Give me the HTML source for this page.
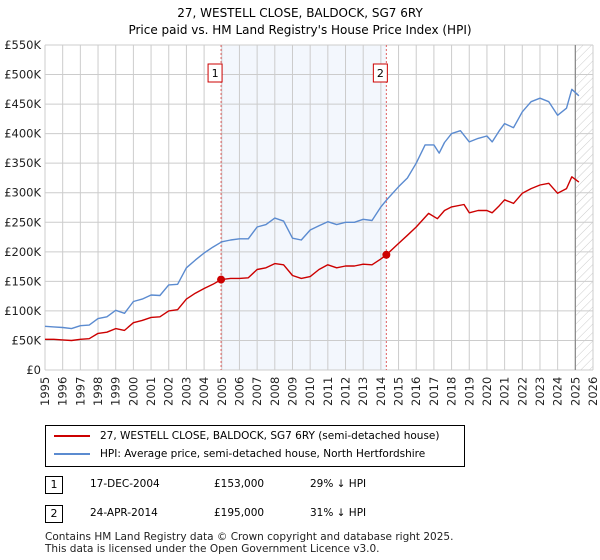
<!DOCTYPE html>
<html><head><meta charset="utf-8"><style>
body{margin:0;background:#fff;font-family:"DejaVu Sans","Liberation Sans",sans-serif;}
#wrap{position:relative;width:600px;height:560px;overflow:hidden;}
.t{position:absolute;font-size:11px;color:#000;white-space:nowrap;}
</style></head><body>
<div id="wrap">
<svg id="chart" width="600" height="420" style="position:absolute;left:0;top:0"></svg>
<div style="position:absolute;left:45px;top:425px;width:420px;height:42px;border:1px solid #000;box-sizing:border-box;">
 <div style="position:absolute;left:8px;top:4px;font-size:10.5px;white-space:nowrap"><span style="display:inline-block;width:36px;height:2px;background:#cc0000;vertical-align:middle;margin-right:10px"></span>27, WESTELL CLOSE, BALDOCK, SG7 6RY (semi-detached house)</div>
 <div style="position:absolute;left:8px;top:22px;font-size:10.5px;white-space:nowrap"><span style="display:inline-block;width:36px;height:2px;background:#5b8bd0;vertical-align:middle;margin-right:10px"></span>HPI: Average price, semi-detached house, North Hertfordshire</div>
</div>
<div>
 <div class="t" style="left:45px;top:476px;width:16px;height:16px;border:1px solid #000;text-align:center;line-height:16px;font-size:11px">1</div>
 <div class="t" style="left:90px;top:478px;font-size:10.5px">17-DEC-2004</div>
 <div class="t" style="left:214px;top:478px;font-size:10.5px">£153,000</div>
 <div class="t" style="left:310px;top:478px;font-size:10.5px">29% ↓ HPI</div>
</div>
<div>
 <div class="t" style="left:45px;top:505px;width:16px;height:16px;border:1px solid #000;text-align:center;line-height:16px;font-size:11px">2</div>
 <div class="t" style="left:90px;top:507px;font-size:10.5px">24-APR-2014</div>
 <div class="t" style="left:214px;top:507px;font-size:10.5px">£195,000</div>
 <div class="t" style="left:310px;top:507px;font-size:10.5px">31% ↓ HPI</div>
</div>
<div class="t" style="left:45px;top:531px;font-size:10.5px;line-height:12px;color:#222">Contains HM Land Registry data © Crown copyright and database right 2025.<br>This data is licensed under the Open Government Licence v3.0.</div>
</div>
<script>
const hpiYears=[1995,1995.5,1996,1996.5,1997,1997.5,1998,1998.5,1999,1999.5,2000,2000.5,2001,2001.5,2002,2002.5,2003,2003.5,2004,2004.5,2005,2005.5,2006,2006.5,2007,2007.5,2008,2008.5,2009,2009.5,2010,2010.5,2011,2011.5,2012,2012.5,2013,2013.5,2014,2014.3,2015,2015.5,2016,2016.5,2017,2017.3,2017.6,2018,2018.5,2019,2019.5,2020,2020.3,2020.7,2021,2021.5,2022,2022.5,2023,2023.5,2024,2024.5,2024.8,2025.2];
const hpiValues=[74,73,72,70,75,76,87,90,101,96,116,120,127,126,144,145,173,186,198,208,217,220,222,222,242,246,257,252,223,220,237,244,251,246,250,250,255,253,276,287,310,325,350,381,381,367,385,400,405,386,392,396,386,405,417,410,437,454,460,454,431,443,475,464];
const redYears=[1995,1995.5,1996,1996.5,1997,1997.5,1998,1998.5,1999,1999.5,2000,2000.5,2001,2001.5,2002,2002.5,2003,2003.5,2004,2004.5,2004.96,2005.5,2006,2006.5,2007,2007.5,2008,2008.5,2009,2009.5,2010,2010.5,2011,2011.5,2012,2012.5,2013,2013.5,2014,2014.31,2015,2015.5,2016,2016.7,2017.2,2017.6,2018,2018.7,2019,2019.5,2020,2020.3,2020.7,2021,2021.5,2022,2022.5,2023,2023.5,2024,2024.5,2024.8,2025.2];
const redValues=[52,52,51,50,52,53,62,64,70,67,80,84,89,90,100,102,120,130,138,145,153,155,155,156,170,173,180,178,160,155,158,170,178,173,176,176,179,178,188,195,214,228,242,265,256,270,276,280,266,270,270,266,278,288,282,299,307,313,316,299,307,327,318];
const sales=[{n:"1",x:2004.96,v:153},{n:"2",x:2014.31,v:195}];
const yTicks=[0,50,100,150,200,250,300,350,400,450,500,550];
const yTickLabels=["£0","£50K","£100K","£150K","£200K","£250K","£300K","£350K","£400K","£450K","£500K","£550K"];
const xTicks=[1995,1996,1997,1998,1999,2000,2001,2002,2003,2004,2005,2006,2007,2008,2009,2010,2011,2012,2013,2014,2015,2016,2017,2018,2019,2020,2021,2022,2023,2024,2025,2026];
const dataEnd=2025.0;

const NS="http://www.w3.org/2000/svg";
const FF='DejaVu Sans, Liberation Sans, sans-serif';
const svg=document.getElementById('chart');
const L=45,R=593,T=45,B=370;
const X=v=>L+(v-1995)/(2026-1995)*(R-L);
const Y=v=>B-v/550*(B-T);
function el(tag,attrs,parent){const e=document.createElementNS(NS,tag);for(const k in attrs)e.setAttribute(k,attrs[k]);(parent||svg).appendChild(e);return e;}

const defs=el('defs',{});
const pat=el('pattern',{id:'hatch',width:6,height:6,patternUnits:'userSpaceOnUse',patternTransform:'rotate(45)'},defs);
el('line',{x1:0,y1:0,x2:0,y2:6,stroke:'#ccc','stroke-width':1},pat);

let t=el('text',{x:300,y:17,'text-anchor':'middle','font-size':12,'font-family':FF});
t.textContent="27, WESTELL CLOSE, BALDOCK, SG7 6RY";


t=el('text',{x:300,y:34,'text-anchor':'middle','font-size':12,'font-family':FF});
t.textContent="Price paid vs. HM Land Registry's House Price Index (HPI)";



let r=el('rect',{x:X(sales[0].x),y:T,width:X(sales[1].x)-X(sales[0].x),height:B-T,fill:'#eef3fc',opacity:0.7});


r=el('rect',{x:X(dataEnd),y:T,width:R-X(dataEnd),height:B-T,fill:'url(#hatch)'});



xTicks.forEach(v=>{const g=el('line',{x1:X(v),x2:X(v),y1:T,y2:B,stroke:'#ccc','stroke-width':1});


const tx=el('text',{transform:`translate(${X(v)+4},${B+36}) rotate(-90)`,'font-size':11.5,'font-family':FF,fill:'#222'});
tx.textContent=v;

});
yTicks.forEach((v,i)=>{const g=el('line',{x1:L,x2:R,y1:Y(v),y2:Y(v),stroke:'#ccc','stroke-width':1});


const tx=el('text',{x:L-4,y:Y(v)+4,'text-anchor':'end','font-size':11.5,'font-family':FF,fill:'#222'});
tx.textContent=yTickLabels[i];

});
let ln=el('line',{x1:X(dataEnd),x2:X(dataEnd),y1:T,y2:B,stroke:'#888','stroke-width':1.2});



sales.forEach(s=>{const l=el('line',{x1:X(s.x),x2:X(s.x),y1:T,y2:B,stroke:'#e06060','stroke-width':1,'stroke-dasharray':'2,2'});

});

function path(xs,vs,color,name){const d=xs.map((x,i)=>(i?'L':'M')+X(x).toFixed(1)+','+Y(vs[i]).toFixed(1)).join('');
const p=el('path',{d:d,fill:'none',stroke:color,'stroke-width':1.4,'stroke-linejoin':'round'});

}
path(hpiYears,hpiValues,'#5b8bd0','hpi-line');
path(redYears,redValues,'#cc0000','property-price-line');

sales.forEach(s=>{const c=el('circle',{cx:X(s.x),cy:Y(s.v),r:4,fill:'#cc0000'});


const bx=el('rect',{x:X(s.x)-13,y:64,width:14,height:18,fill:'#fff',stroke:'#cc0000','stroke-width':1});


const tx=el('text',{x:X(s.x)-6,y:77,'text-anchor':'middle','font-size':11,'font-family':FF});
tx.textContent=s.n;

});
</script>
</body></html>
